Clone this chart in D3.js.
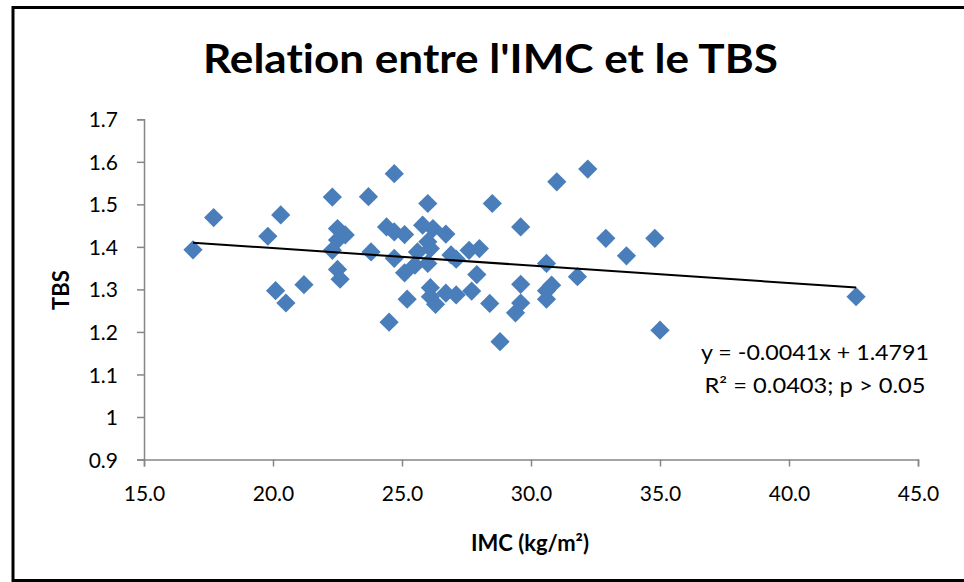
<!DOCTYPE html>
<html>
<head>
<meta charset="utf-8">
<script src="https://cdn.jsdelivr.net/npm/d3@7"></script>
<style>
  html, body { margin: 0; padding: 0; background: #fff; }
  svg { display: block; }
  text { font-family: Lato, "Open Sans", sans-serif; fill: #000; font-variant-ligatures: none; }
</style>
</head>
<body>
<svg id="chart" width="964" height="582"></svg>
<script>
// ---- data ----
const title = "Relation entre l'IMC et le TBS";
const xTitle = "IMC (kg/m²)";
const yTitle = "TBS";
const imc = [16.9, 17.7, 19.8, 20.3, 20.1, 20.5, 21.2, 22.3, 22.3, 22.5, 22.8, 22.5, 22.5, 22.6,
  23.7, 23.8, 24.4, 24.5, 24.7, 24.7, 24.7, 25.1, 25.1, 25.2, 25.5, 25.6, 25.8, 26.0, 26.0, 26.0,
  26.1, 26.1, 26.2, 26.1, 26.3, 26.7, 26.7, 26.9, 27.1, 27.1, 27.6, 27.7, 27.9, 28.0, 28.4, 28.5,
  28.8, 29.4, 29.6, 29.6, 29.6, 30.6, 30.6, 30.6, 30.8, 31.0, 31.8, 32.2, 32.9, 33.7, 34.8, 35.0, 42.6];
const tbs = [1.393, 1.469, 1.425, 1.475, 1.297, 1.268, 1.311, 1.517, 1.392, 1.443, 1.428, 1.416, 1.347, 1.324,
  1.518, 1.388, 1.447, 1.223, 1.572, 1.435, 1.373, 1.429, 1.339, 1.277, 1.357, 1.388, 1.451, 1.502, 1.361, 1.412,
  1.396, 1.304, 1.443, 1.283, 1.265, 1.430, 1.291, 1.381, 1.371, 1.287, 1.392, 1.296, 1.335, 1.396, 1.267, 1.502,
  1.177, 1.245, 1.447, 1.312, 1.268, 1.361, 1.297, 1.277, 1.310, 1.553, 1.330, 1.583, 1.420, 1.379, 1.420, 1.204, 1.283];
const trendSlope = -0.0041;
const trendIntercept = 1.4791;
const equationLines = ["y = -0.0041x + 1.4791", "R² = 0.0403; p > 0.05"];
const xTicks = [15, 20, 25, 30, 35, 40, 45];
const yTicks = [0.9, 1.0, 1.1, 1.2, 1.3, 1.4, 1.5, 1.6, 1.7];
const xDomain = [15, 45];
const yDomain = [0.9, 1.7];

const points = imc.map((v, i) => ({ x: v, y: tbs[i] }));

// ---- layout ----
const svg = d3.select("#chart");
const plot = { left: 144, right: 918, top: 119.3, bottom: 459.5 };
const axisColor = "#868686";

const x = d3.scaleLinear().domain(xDomain).range([plot.left, plot.right]);
const y = d3.scaleLinear().domain(yDomain).range([plot.bottom, plot.top]);

// outer frame
svg.append("rect")
  .attr("x", 13).attr("y", 7.5)
  .attr("width", 1000).attr("height", 573)
  .attr("fill", "none").attr("stroke", "#000").attr("stroke-width", 3);

// title
svg.append("text")
  .attr("x", 490.5).attr("y", 73)
  .attr("text-anchor", "middle")
  .attr("font-size", 40).attr("font-weight", 700)
  .attr("textLength", 575).attr("lengthAdjust", "spacingAndGlyphs")
  .text(title);

// axes
const xAxis = d3.axisBottom(x).tickValues(xTicks).tickFormat(d3.format(".1f")).tickSize(7).tickPadding(20);
const gx = svg.append("g").attr("transform", `translate(0,${plot.bottom})`).call(xAxis);
const yAxis = d3.axisLeft(y).tickValues(yTicks).tickFormat(d => d === 1 ? "1" : d3.format(".1f")(d)).tickSize(7).tickPadding(19);
const gy = svg.append("g").attr("transform", `translate(${plot.left},0)`).call(yAxis);

[gx, gy].forEach(g => {
  g.select(".domain").attr("stroke", axisColor).attr("stroke-width", 1.5);
  g.selectAll(".tick line").attr("stroke", axisColor).attr("stroke-width", 1.5);
  g.selectAll(".tick text").attr("font-size", 21).attr("font-family", "Lato, sans-serif").attr("fill", "#000");
});
gy.selectAll(".tick text").attr("dy", "0.36em");

// axis titles
svg.append("text")
  .attr("x", 530).attr("y", 551)
  .attr("text-anchor", "middle")
  .attr("font-size", 22).attr("font-weight", 700)
  .text(xTitle);
svg.append("text")
  .attr("transform", "translate(69,290) rotate(-90)")
  .attr("text-anchor", "middle")
  .attr("font-size", 22).attr("font-weight", 700)
  .text(yTitle);

// points
const diamond = d3.symbol().type(d3.symbolSquare).size(185);
svg.append("g").selectAll("path")
  .data(points)
  .join("path")
  .attr("d", diamond)
  .attr("transform", d => `translate(${x(d.x)},${y(d.y)}) rotate(45)`)
  .attr("fill", "#4a7ebb");

// trend line
const xExt = d3.extent(imc);
const trendData = xExt.map(v => ({ x: v, y: trendSlope * v + trendIntercept }));
svg.append("path")
  .datum(trendData)
  .attr("d", d3.line().x(d => x(d.x)).y(d => y(d.y)))
  .attr("stroke", "#000").attr("stroke-width", 2).attr("fill", "none");

// equation
svg.append("g").selectAll("text")
  .data(equationLines)
  .join("text")
  .attr("x", 815)
  .attr("y", (d, i) => 359.5 + i * 33.5)
  .attr("text-anchor", "middle")
  .attr("font-size", 21)
  .attr("textLength", (d, i) => i === 0 ? 228 : 221)
  .attr("lengthAdjust", "spacingAndGlyphs")
  .text(d => d);
</script>
</body>
</html>
